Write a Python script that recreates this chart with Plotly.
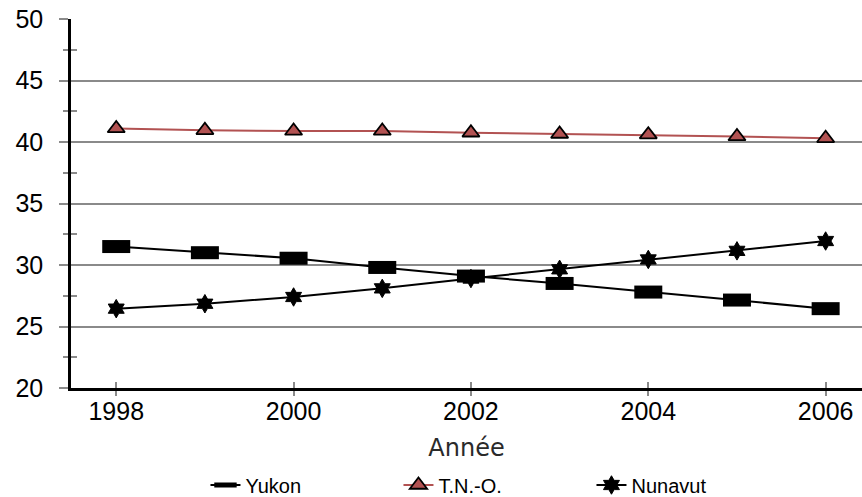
import plotly.graph_objects as go

years = [1998, 1999, 2000, 2001, 2002, 2003, 2004, 2005, 2006]
yukon = [31.5, 31.0, 30.55, 29.8, 29.1, 28.5, 27.8, 27.15, 26.45]
tno = [41.1, 40.95, 40.9, 40.9, 40.75, 40.65, 40.6, 40.45, 40.3]
nunavut = [26.45, 26.85, 27.4, 28.1, 28.9, 29.65, 30.45, 31.15, 31.95]

series_names = ["Yukon", "T.N.-O.", "Nunavut"]
x_title = "Année"

FONT = "Liberation Sans, Arial, sans-serif"
GRID = "#8a8a8a"
RED = "#b25252"

fig = go.Figure()

fig.add_trace(go.Scatter(
    x=years, y=yukon, name=series_names[0], mode="lines+markers",
    line=dict(color="black", width=2),
    marker=dict(symbol="line-ew", size=20, color="black",
                line=dict(color="black", width=13)),
))
fig.add_trace(go.Scatter(
    x=years, y=tno, name=series_names[1], mode="lines+markers",
    line=dict(color=RED, width=2),
    marker=dict(symbol="triangle-up", size=15, color=RED,
                line=dict(color="black", width=1.8)),
))
fig.add_trace(go.Scatter(
    x=years, y=nunavut, name=series_names[2], mode="lines+markers",
    line=dict(color="black", width=2),
    marker=dict(symbol="hexagram", size=14, color="black",
                line=dict(color="black", width=1)),
))
# empty trace to create the overlay axes used for the inner half of crossing ticks
fig.add_trace(go.Scatter(x=[], y=[], xaxis="x2", yaxis="y2",
                         showlegend=False, hoverinfo="skip"))

xr = [1997.49, 2006.41]
yr = [20, 50]

fig.update_layout(
    width=862, height=497,
    margin=dict(l=71, r=0, t=19, b=109, autoexpand=False),
    paper_bgcolor="white", plot_bgcolor="white",
    font=dict(family=FONT, color="black", size=25),
    showlegend=True,
    legend=dict(
        orientation="h", x=0.536, xanchor="center", y=-0.21, yanchor="top",
        font=dict(family=FONT, size=20, color="black"),
        entrywidth=148, entrywidthmode="pixels", itemwidth=30,
        traceorder="normal", bgcolor="rgba(0,0,0,0)",
    ),
    xaxis=dict(
        range=xr, tick0=1998, dtick=2, showgrid=False, zeroline=False,
        automargin=False,
        showline=True, linecolor="black", linewidth=2.5,
        ticks="outside", ticklen=5, tickcolor=GRID, tickwidth=1.5,
        tickfont=dict(family=FONT, size=25, color="black"),
        ticklabelstandoff=-6,
        title=dict(text=x_title, standoff=16,
                   font=dict(family="DejaVu Sans, sans-serif", size=24, color="#2a2a2a")),
    ),
    yaxis=dict(
        range=yr, tick0=20, dtick=5, showgrid=True, gridcolor=GRID, gridwidth=2,
        automargin=False,
        zeroline=False, showline=True, linecolor="black", linewidth=2.5,
        ticks="outside", ticklen=9, tickcolor=GRID, tickwidth=2,
        tickfont=dict(family=FONT, size=25, color="black"),
        ticklabelstandoff=11,
        minor=dict(dtick=2.5, tick0=20, ticks="outside", ticklen=5,
                   tickcolor=GRID, tickwidth=1.5, showgrid=False),
    ),
    xaxis2=dict(
        range=xr, overlaying="x", anchor="y2", side="bottom", tick0=1998, dtick=2,
        automargin=False,
        showgrid=False, zeroline=False, showline=False, showticklabels=False,
        ticks="inside", ticklen=6, tickcolor=GRID, tickwidth=1.5,
    ),
    yaxis2=dict(
        range=yr, overlaying="y", anchor="x2", side="left", tick0=22.5, dtick=5,
        automargin=False,
        showgrid=False, zeroline=False, showline=False, showticklabels=False,
        ticks="inside", ticklen=6, tickcolor=GRID, tickwidth=1.5,
    ),
)

fig.write_html("out.html", config={"displayModeBar": False},
               post_script="document.body.style.margin='0';document.body.style.overflow='hidden';")
